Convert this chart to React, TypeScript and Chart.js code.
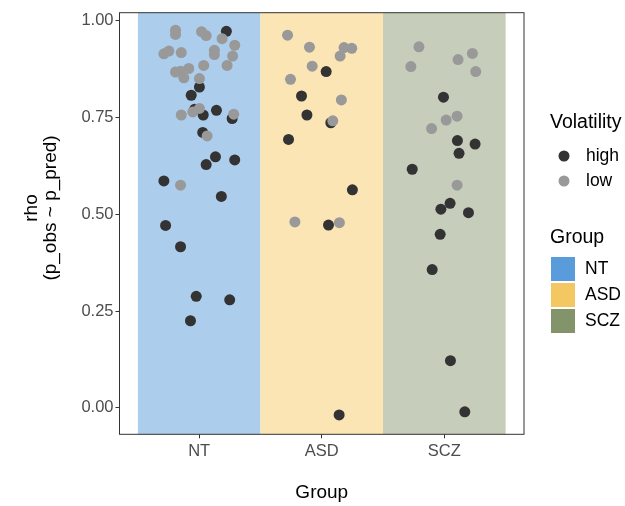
import React, { useEffect, useRef } from "react";
import { Chart, registerables } from "chart.js";

Chart.register(...registerables);

const categories = ["NT", "ASD", "SCZ"];
const yTicks = [0, 0.25, 0.5, 0.75, 1.0];

// jittered x positions (1 = NT, 2 = ASD, 3 = SCZ) and rho values
const lowX = [
  0.807, 0.807, 1.019, 1.057, 1.187, 1.29, 1.273, 0.712, 0.753, 0.854, 1.124, 1.124, 1.037, 1.228,
  0.807, 0.848, 0.875, 0.915, 1.002, 1.002, 0.948, 0.854, 1.282, 1.065, 0.848,
  1.721, 1.9, 2.182, 2.245, 2.15, 1.922, 1.745, 2.16, 2.09, 1.781, 2.144,
  2.793, 2.727, 3.112, 3.229, 3.256, 3.104, 3.015, 2.896, 3.104,
];
const lowY = [
  0.975, 0.964, 0.971, 0.961, 0.953, 0.936, 0.908, 0.914, 0.921, 0.917, 0.923, 0.912, 0.884, 0.884,
  0.867, 0.869, 0.852, 0.876, 0.85, 0.773, 0.764, 0.756, 0.758, 0.702, 0.575,
  0.962, 0.931, 0.93, 0.928, 0.908, 0.882, 0.848, 0.795, 0.741, 0.48, 0.478,
  0.932, 0.881, 0.899, 0.915, 0.868, 0.753, 0.743, 0.721, 0.575,
];
const highX = [
  1.222, 1.002, 0.935, 0.964, 1.033, 1.141, 1.269, 1.029, 1.133, 1.057, 1.29, 0.712, 1.181, 0.726,
  0.848, 0.976, 1.249, 0.929,
  2.036, 1.835, 1.879, 2.074, 1.729, 2.25, 2.055, 2.142,
  2.993, 3.107, 3.251, 3.12, 2.738, 3.047, 2.972, 3.197, 2.966, 2.901, 3.05, 3.167,
];
const highY = [
  0.972, 0.828, 0.807, 0.771, 0.756, 0.768, 0.747, 0.711, 0.648, 0.628, 0.64, 0.586, 0.546, 0.471,
  0.416, 0.288, 0.279, 0.225,
  0.868, 0.805, 0.756, 0.736, 0.693, 0.563, 0.472, -0.018,
  0.802, 0.69, 0.681, 0.657, 0.616, 0.528, 0.513, 0.504, 0.448, 0.357, 0.122, -0.01,
];

const bandColors = ["#ADCDEC", "#FBE5B5", "#C6CDBA"];
const keyColors = ["#5A9BDB", "#F3C862", "#83936A"];
const highColor = "#333333";
const lowColor = "#999999";
const FONT = "'Liberation Sans', Arial, Helvetica, sans-serif";

export default function App() {
  const ref = useRef<HTMLCanvasElement>(null);

  useEffect(() => {
    if (!ref.current) return;

    const decor = {
      id: "decor",
      beforeDatasetsDraw(chart: any) {
        const { ctx, chartArea: a, scales } = chart;
        const x = scales.x;
        ctx.save();
        categories.forEach((_, i) => {
          const x0 = x.getPixelForValue(i + 0.5);
          const x1 = x.getPixelForValue(i + 1.5);
          ctx.fillStyle = bandColors[i];
          ctx.fillRect(x0, a.top, x1 - x0, a.bottom - a.top);
        });
        ctx.restore();
      },
      afterDraw(chart: any) {
        const { ctx, chartArea: a } = chart;
        ctx.save();
        ctx.strokeStyle = "#333333";
        ctx.lineWidth = 1;
        ctx.strokeRect(a.left, a.top, a.right - a.left, a.bottom - a.top);

        // axis titles
        ctx.fillStyle = "#000000";
        ctx.font = `19px ${FONT}`;
        ctx.textAlign = "center";
        ctx.textBaseline = "middle";
        ctx.fillText("Group", (a.left + a.right) / 2, 493);
        const yc = 208;
        ctx.save();
        ctx.translate(32, yc);
        ctx.rotate(-Math.PI / 2);
        ctx.fillText("rho", 0, 0);
        ctx.restore();
        ctx.save();
        ctx.translate(51, yc);
        ctx.rotate(-Math.PI / 2);
        ctx.fillText("(p_obs ~ p_pred)", 0, 0);
        ctx.restore();

        // legend: Volatility
        ctx.textAlign = "left";
        ctx.font = `19.5px ${FONT}`;
        ctx.fillText("Volatility", 550, 123);
        ctx.font = `17.5px ${FONT}`;
        const vol = [
          ["high", highColor, 156],
          ["low", lowColor, 181],
        ] as const;
        vol.forEach(([lab, col, yy]) => {
          ctx.fillStyle = col;
          ctx.beginPath();
          ctx.arc(564, yy, 5.5, 0, Math.PI * 2);
          ctx.fill();
          ctx.fillStyle = "#000000";
          ctx.fillText(lab, 586, yy);
        });

        // legend: Group
        ctx.font = `19.5px ${FONT}`;
        ctx.fillText("Group", 550, 238);
        ctx.font = `17.5px ${FONT}`;
        categories.forEach((c, i) => {
          const top = 257 + i * 26;
          ctx.fillStyle = keyColors[i];
          ctx.fillRect(551, top, 24, 24);
          ctx.fillStyle = "#000000";
          ctx.fillText(c, 585, top + 12);
        });
        ctx.restore();
      },
    };

    const chart = new Chart(ref.current, {
      type: "scatter",
      data: {
        datasets: [
          {
            label: "low",
            data: lowX.map((v, i) => ({ x: v, y: lowY[i] })),
            backgroundColor: lowColor,
            borderWidth: 0,
            pointRadius: 5.5,
          },
          {
            label: "high",
            data: highX.map((v, i) => ({ x: v, y: highY[i] })),
            backgroundColor: highColor,
            borderWidth: 0,
            pointRadius: 5.5,
          },
        ],
      },
      options: {
        animation: false,
        responsive: false,
        layout: { padding: { top: 12.7, right: 101, left: 0, bottom: 0 } },
        plugins: { legend: { display: false }, tooltip: { enabled: false } },
        scales: {
          x: {
            type: "linear",
            min: 0.35,
            max: 3.65,
            afterFit: (s: any) => {
              s.height = 71.7;
            },
            afterBuildTicks: (s: any) => {
              s.ticks = categories.map((_, i) => ({ value: i + 1 }));
            },
            ticks: {
              callback: (v: any) => categories[Math.round(Number(v)) - 1] ?? "",
              color: "#4D4D4D",
              font: { family: FONT, size: 16.5 },
              padding: 3,
              maxRotation: 0,
            },
            grid: {
              drawOnChartArea: false,
              drawTicks: true,
              tickLength: 4,
              color: "#333333",
            },
            border: { display: false },
          },
          y: {
            min: -0.068,
            max: 1.02,
            afterFit: (s: any) => {
              s.width = 119.5;
            },
            afterBuildTicks: (s: any) => {
              s.ticks = yTicks.map((v) => ({ value: v }));
            },
            ticks: {
              callback: (v: any) => Number(v).toFixed(2),
              color: "#4D4D4D",
              font: { family: FONT, size: 16.5 },
              padding: 2,
            },
            grid: {
              drawOnChartArea: false,
              drawTicks: true,
              tickLength: 4,
              color: "#333333",
            },
            border: { display: false },
          },
        },
      },
      plugins: [decor],
    });
    return () => chart.destroy();
  }, []);

  return (
    <div style={{ position: "fixed", left: 0, top: 0, width: 625, height: 506, background: "#fff" }}>
      <canvas ref={ref} width={625} height={506} />
    </div>
  );
}
